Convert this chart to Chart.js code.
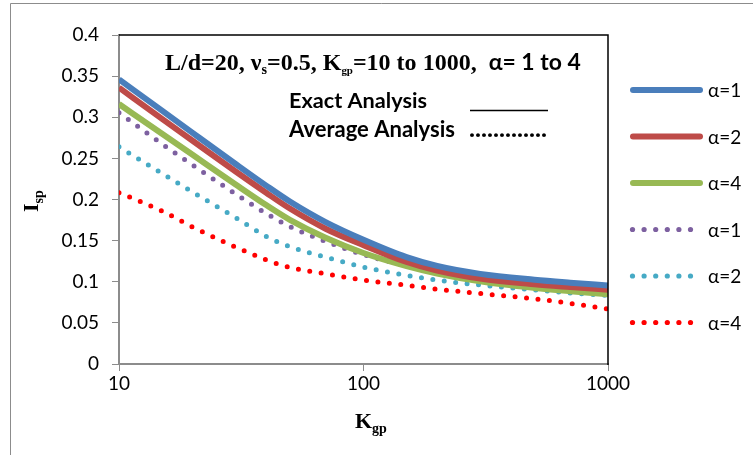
<!DOCTYPE html>
<html><head><meta charset="utf-8">
<script src="https://cdn.jsdelivr.net/npm/chart.js@4"></script>
<style>html,body{margin:0;padding:0;background:#fff}#wrap{width:753px;height:455px;position:relative}</style>
</head><body><div id="wrap"><canvas id="c" width="753" height="455"></canvas></div>
<script>
// ---- data ----
const kValues = [10, 15, 20, 30, 40, 50, 70, 100, 150, 200, 300, 500, 700, 1000];
const exactA1 = [0.346, 0.308, 0.281, 0.2432, 0.2169, 0.1975, 0.1725, 0.151, 0.1299, 0.1193, 0.1096, 0.1025, 0.0989, 0.0955];
const exactA2 = [0.336, 0.298, 0.2715, 0.234, 0.2082, 0.189, 0.1645, 0.1445, 0.124, 0.1136, 0.104, 0.097, 0.0936, 0.0903];
const exactA4 = [0.316, 0.2799, 0.2543, 0.2182, 0.1932, 0.1753, 0.1535, 0.135, 0.119, 0.110, 0.1005, 0.0925, 0.0885, 0.0848];
const avgA1   = [0.3055, 0.2675, 0.242, 0.2067, 0.183, 0.167, 0.149, 0.133, 0.1195, 0.112, 0.1046, 0.097, 0.093, 0.090];
const avgA2   = [0.264, 0.2316, 0.209, 0.178, 0.155, 0.1426, 0.130, 0.1177, 0.1078, 0.102, 0.096, 0.090, 0.0863, 0.0833];
const avgA4   = [0.2083, 0.186, 0.1666, 0.1422, 0.1266, 0.1173, 0.1098, 0.102, 0.0957, 0.091, 0.0857, 0.0793, 0.0737, 0.0669];
const seriesLabels = ['α=1', 'α=2', 'α=4', 'α=1', 'α=2', 'α=4'];
const xTickValues = [10, 100, 1000];
const yTickStep = 0.05;

const SANS = 'Lato, "Open Sans", sans-serif';
const SERIF = '"Liberation Serif", "DejaVu Serif", serif';

function pts(vals){ return kValues.map((k,i)=>({x:k, y:vals[i]})); }
function solid(label, vals, color){
  return {label, data: pts(vals), borderColor: color, backgroundColor: color, borderWidth: 6,
    pointRadius: 0, cubicInterpolationMode: 'monotone', borderCapStyle: 'butt', fill: false, kind: 'solid'};
}
function dotted(label, vals, color){
  return {label, data: pts(vals), borderColor: color, backgroundColor: color, borderWidth: 5,
    pointRadius: 0, cubicInterpolationMode: 'monotone', borderCapStyle: 'round', borderDash: [0, 11.5], fill: false, kind: 'dot'};
}

function drawRuns(ctx, x, y, runs, targetW){
  let f = 1;
  if (targetW){
    let w = 0;
    runs.forEach(r=>{ ctx.font = 'bold ' + r.size + 'px ' + r.fam; w += ctx.measureText(r.t).width; });
    f = targetW / w;
  }
  let cx = x;
  runs.forEach(r=>{
    ctx.font = 'bold ' + (r.size*f).toFixed(2) + 'px ' + r.fam;
    ctx.fillText(r.t, cx, y + (r.dy||0)*f);
    cx += ctx.measureText(r.t).width;
  });
}
function fitFont(ctx, text, w, weight, fam){
  ctx.font = weight + ' 100px ' + fam;
  return (100 * w / ctx.measureText(text).width).toFixed(2);
}

const deco = {
  id: 'deco',
  beforeDraw(chart){
    const ctx = chart.ctx;
    ctx.save();
    ctx.fillStyle = '#fff';
    ctx.fillRect(0, 0, chart.width, chart.height);
    ctx.strokeStyle = '#8c8c8c'; ctx.lineWidth = 1;
    ctx.beginPath(); ctx.moveTo(10.5, 455); ctx.lineTo(10.5, 3.5); ctx.lineTo(753, 3.5); ctx.stroke();
    ctx.restore();
  },
  afterDraw(chart){
    const ctx = chart.ctx, a = chart.chartArea;
    ctx.save();
    ctx.strokeStyle = '#000'; ctx.lineWidth = 1.5;
    ctx.beginPath(); ctx.moveTo(a.left, a.top); ctx.lineTo(a.right, a.top); ctx.lineTo(a.right, a.bottom + 1); ctx.stroke();

    ctx.fillStyle = '#000';
    ctx.textBaseline = 'alphabetic';
    ctx.textAlign = 'left';
    drawRuns(ctx, 165, 70, [
      {t:'L/d=20, ν', size:22, fam:SERIF},
      {t:'s', size:13, fam:SERIF, dy:4},
      {t:'=0.5, K', size:22, fam:SERIF},
      {t:'gp', size:10, fam:SERIF, dy:4},
      {t:'=10 to 1000,  ', size:22, fam:SERIF},
      {t:'α= 1 to 4', size:21, fam:SANS}
    ], 416);
    ctx.font = 'bold ' + fitFont(ctx, 'Exact Analysis', 138, 'bold', SANS) + 'px ' + SANS;
    ctx.fillText('Exact Analysis', 289, 108);
    ctx.font = 'bold ' + fitFont(ctx, 'Average Analysis', 166, 'bold', SANS) + 'px ' + SANS;
    ctx.fillText('Average Analysis', 289, 136.5);
    ctx.font = 'bold ' + fitFont(ctx, '.............', 78, 'bold', SANS) + 'px ' + SANS;
    ctx.fillText('.............', 469, 136.5);
    ctx.strokeStyle = '#000'; ctx.lineWidth = 1.4;
    ctx.beginPath(); ctx.moveTo(470, 110.5); ctx.lineTo(548, 110.5); ctx.stroke();

    drawRuns(ctx, 355, 428, [
      {t:'K', size:22, fam:SERIF},
      {t:'gp', size:14, fam:SERIF, dy:5}
    ]);
    ctx.save();
    ctx.translate(38, 212);
    ctx.rotate(-Math.PI/2);
    drawRuns(ctx, 0, 0, [
      {t:'I', size:22, fam:SERIF},
      {t:'sp', size:14, fam:SERIF, dy:5}
    ]);
    ctx.restore();

    ctx.font = '19px ' + SANS;
    ctx.textBaseline = 'middle';
    chart.data.datasets.forEach((ds, i)=>{
      const y = 90 + i*46.5;
      if (ds.kind === 'solid'){
        ctx.strokeStyle = ds.borderColor; ctx.lineWidth = 6; ctx.lineCap = 'round';
        ctx.beginPath(); ctx.moveTo(633, y); ctx.lineTo(700, y); ctx.stroke();
      } else {
        ctx.fillStyle = ds.borderColor;
        for (let k=0;k<6;k++){ ctx.beginPath(); ctx.arc(632.5 + k*11.6, y, 2.6, 0, Math.PI*2); ctx.fill(); }
      }
      ctx.fillStyle = '#000';
      ctx.fillText(ds.label, 708, y + 1);
    });
    ctx.restore();
  }
};

new Chart(document.getElementById('c'), {
  type: 'line',
  data: {
    datasets: [
      solid(seriesLabels[0], exactA1, '#4A7EBB'),
      solid(seriesLabels[1], exactA2, '#BE4B48'),
      solid(seriesLabels[2], exactA4, '#98B954'),
      dotted(seriesLabels[3], avgA1, '#7D60A0'),
      dotted(seriesLabels[4], avgA2, '#46AAC5'),
      dotted(seriesLabels[5], avgA4, '#FF0000')
    ]
  },
  options: {
    responsive: false,
    animation: false,
    devicePixelRatio: 1,
    layout: { padding: { top: 35, right: 145, left: 0, bottom: 0 } },
    plugins: { legend: { display: false }, tooltip: { enabled: false } },
    scales: {
      x: {
        type: 'logarithmic', min: 10, max: 1000,
        afterBuildTicks: (ax)=>{ ax.ticks = xTickValues.map(v=>({value:v})); },
        afterFit: (s)=>{ s.height = 91; },
        grid: { drawOnChartArea: false, drawTicks: true, tickLength: 7, color: '#8c8c8c' },
        border: { color: '#8c8c8c', width: 2 },
        ticks: { color: '#000', font: { family: SANS, size: 19 }, padding: 1, maxRotation: 0,
          callback: (v)=> String(v) }
      },
      y: {
        min: 0, max: 0.4,
        afterFit: (s)=>{ s.width = 119; },
        grid: { drawOnChartArea: false, drawTicks: true, tickLength: 7, color: '#8c8c8c' },
        border: { color: '#8c8c8c', width: 2 },
        ticks: { stepSize: yTickStep, color: '#000', font: { family: SANS, size: 19 }, padding: 13,
          callback: (v)=> String(Number(v.toFixed(2))) }
      }
    }
  },
  plugins: [deco]
});
</script>
</body></html>
